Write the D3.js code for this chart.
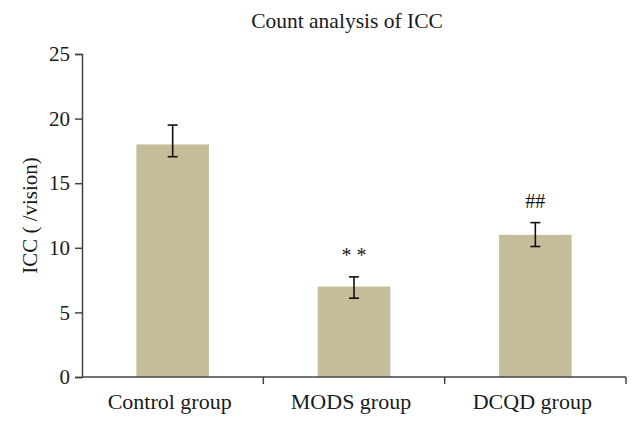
<!DOCTYPE html>
<html>
<head>
<meta charset="utf-8">
<script src="https://cdn.jsdelivr.net/npm/d3@7"></script>
<style>
  html, body { margin: 0; padding: 0; background: #fff; }
  svg { display: block; }
  text { font-family: "Liberation Serif", "DejaVu Serif", serif; fill: #1a1a1a; }
</style>
</head>
<body>
<script>
// ---- data ----
const categories = ["Control group", "MODS group", "DCQD group"];
const means = [18, 7, 11];
const errUpper = [19.5, 7.75, 11.95];
const errLower = [17.05, 6.1, 10.1];
const marks = ["", "* *", "##"];
const yTicks = [0, 5, 10, 15, 20, 25];
const titleText = "Count analysis of ICC";
const yLabel = "ICC ( /vision)";

// ---- layout ----
const W = 640, H = 426;
const m = { left: 82, right: 14, top: 54, bottom: 49 };
const innerW = W - m.left - m.right;
const innerH = H - m.top - m.bottom;

const svg = d3.select("body").append("svg").attr("width", W).attr("height", H);
const g = svg.append("g").attr("transform", `translate(${m.left},${m.top})`);

const x = d3.scaleBand().domain(categories).range([0, innerW]).paddingInner(0.6).paddingOuter(0.3);
const y = d3.scaleLinear().domain([0, 25]).range([innerH, 0]);

// bars
g.selectAll("rect.bar").data(categories).join("rect")
  .attr("class", "bar")
  .attr("x", d => x(d))
  .attr("width", x.bandwidth())
  .attr("y", (d, i) => y(means[i]))
  .attr("height", (d, i) => y(0) - y(means[i]))
  .attr("fill", "#c5bd99");

// error bars
const cap = 5;
const eb = g.selectAll("g.err").data(categories).join("g").attr("class", "err")
  .attr("transform", d => `translate(${x(d) + x.bandwidth() / 2},0)`);
eb.append("line").attr("x1", 0).attr("x2", 0)
  .attr("y1", (d, i) => y(errUpper[i])).attr("y2", (d, i) => y(errLower[i]))
  .attr("stroke", "#111").attr("stroke-width", 1.6);
eb.append("line").attr("x1", -cap).attr("x2", cap)
  .attr("y1", (d, i) => y(errUpper[i])).attr("y2", (d, i) => y(errUpper[i]))
  .attr("stroke", "#111").attr("stroke-width", 1.6);
eb.append("line").attr("x1", -cap).attr("x2", cap)
  .attr("y1", (d, i) => y(errLower[i])).attr("y2", (d, i) => y(errLower[i]))
  .attr("stroke", "#111").attr("stroke-width", 1.6);

// significance marks
eb.append("text")
  .attr("text-anchor", "middle")
  .attr("y", (d, i) => y(errUpper[i]) - 15)
  .style("font-size", "20px")
  .text((d, i) => marks[i]);

// y axis
const yAxis = g.append("g")
  .call(d3.axisLeft(y).tickValues(yTicks).tickSize(7).tickPadding(5).tickFormat(d3.format("d")));
yAxis.select(".domain").attr("stroke", "#444").attr("stroke-width", 1.5);
yAxis.selectAll(".tick line").attr("stroke", "#444").attr("stroke-width", 1.5);
yAxis.selectAll(".tick text").style("font-size", "21px").style("font-family", "Liberation Serif").attr("fill", "#1a1a1a");

// x axis with ticks at band boundaries
const step = x.step();
const bounds = [0].concat(categories.map((c, i) => (i + 1) * step));
const xAxis = g.append("g").attr("transform", `translate(0,${innerH})`);
xAxis.append("line").attr("x1", 0).attr("x2", innerW).attr("y1", 0).attr("y2", 0)
  .attr("stroke", "#444").attr("stroke-width", 1.5);
xAxis.selectAll("line.bt").data(bounds.slice(1)).join("line").attr("class", "bt")
  .attr("x1", d => d).attr("x2", d => d).attr("y1", 0).attr("y2", 7)
  .attr("stroke", "#444").attr("stroke-width", 1.5);
xAxis.selectAll("text.cl").data(categories).join("text").attr("class", "cl")
  .attr("x", d => x(d) + x.bandwidth() / 2 - 3)
  .attr("y", 32)
  .attr("text-anchor", "middle")
  .style("font-size", "22px")
  .text(d => d);

// title
svg.append("text").attr("x", 347).attr("y", 28).attr("text-anchor", "middle")
  .style("font-size", "21.5px").text(titleText);

// y label
svg.append("text")
  .attr("transform", `translate(37,${m.top + innerH / 2}) rotate(-90)`)
  .attr("text-anchor", "middle")
  .style("font-size", "21px")
  .text(yLabel);
</script>
</body>
</html>
